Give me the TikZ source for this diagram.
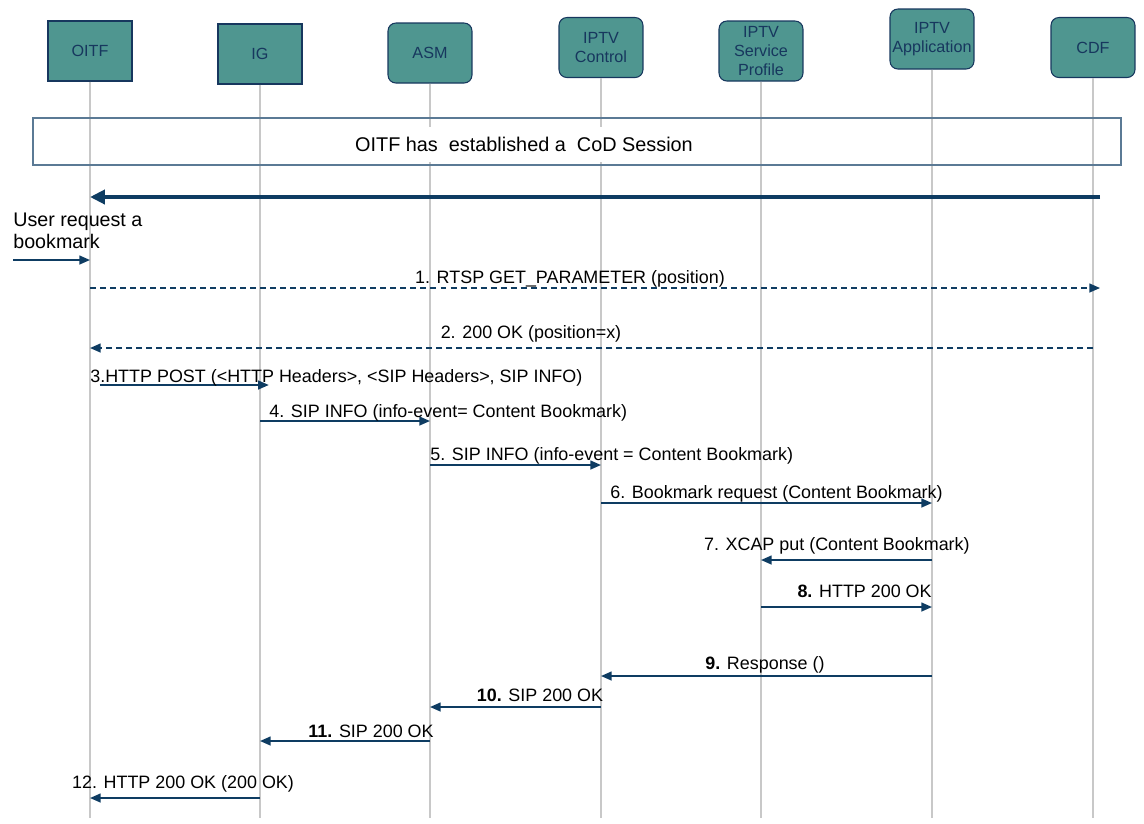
\documentclass[tikz,border=0pt]{standalone}
\usepackage{fontspec}
\setmainfont{Liberation Sans}
\usetikzlibrary{arrows.meta}
\definecolor{boxteal}{HTML}{4F9690}
\definecolor{boxline}{HTML}{17375E}
\definecolor{msgblue}{HTML}{0E3C62}
\definecolor{lifegray}{HTML}{C8C8C8}
\definecolor{sessline}{HTML}{5B7A95}
\begin{document}
\begin{tikzpicture}[x=0.02cm,y=-0.02cm,
	actor/.style={draw=boxline,fill=boxteal,line width=0.6pt,minimum width=1.68cm,minimum height=1.2cm,
		text=boxline,font=\fontsize{9.2}{11}\selectfont,align=center,inner sep=1pt},
	ractor/.style={actor,rounded corners=4.5pt},
	life/.style={lifegray,line width=0.8pt},
	msg/.style={msgblue,line width=0.9pt,-{Triangle[length=6pt,width=5pt]}},
	dmsg/.style={msg,dash pattern=on 3.4pt off 2.3pt},
	lbl/.style={font=\fontsize{10.2}{12}\selectfont,inner sep=0pt}]
	\useasboundingbox (0,0) rectangle (1144,823);

	% ACTORS
	\node[actor] (oitf) at (90,51) {OITF};
	\node[actor] (ig) at (260,54) {IG};
	\node[ractor] (asm) at (430,53) {ASM};
	\node[ractor] (ctrl) at (601,47.5) {IPTV\\Control};
	\node[ractor] (prof) at (761,51) {IPTV\\Service\\Profile};
	\node[ractor] (app) at (932,39) {IPTV\\Application};
	\node[ractor] (cdf) at (1093,47.5) {CDF};
	\foreach \n in {oitf,ig,asm,ctrl,prof,app,cdf}
		\draw[life] (\n.south) -- (\n.south |- 0,818);

	% SESSION
	\node[draw=sessline,line width=0.9pt,minimum width=21.76cm,minimum height=0.94cm] (sess) at (577,141.5) {};
	\node[fill=white,font=\fontsize{11.3}{13}\selectfont,minimum height=0.7cm,inner xsep=2pt] (sesstxt) at (524,144)
		{OITF has\ \ established a\ \ CoD Session};
	\draw[msgblue,line width=2.3pt,-{Triangle[length=8.5pt,width=8pt]},shorten <=-4pt] (cdf |- 0,197) -- (oitf |- 0,197);

	% USER REQUEST
	\node[lbl,font=\fontsize{11.2}{12.5}\selectfont,align=left,anchor=base west] (user) at (13,248) {User request a\\bookmark};
	\coordinate (userin) at (13,260);
	\draw[msg] (userin) -- (oitf |- userin);

	% MESSAGES
	\draw[dmsg,shorten >=-4pt] (oitf |- 0,288) -- (cdf |- 0,288);
	\node[lbl,anchor=base] (m1) at (570,283) {1. RTSP GET\_PARAMETER (position)};
	\draw[dmsg] (cdf |- 0,348) -- (oitf |- 0,348);
	\node[lbl,anchor=base] (m2) at (531,338) {2. 200 OK (position=x)};
	\draw[msg,shorten <=5.5pt,shorten >=-5pt] (oitf |- 0,385) -- (ig |- 0,385);
	\node[lbl,anchor=base west] (m3) at (90,382) {3.HTTP POST (<HTTP Headers>, <SIP Headers>, SIP INFO)};
	\draw[msg] (ig |- 0,421) -- (asm |- 0,421);
	\node[lbl,anchor=base west] (m4) at (269,417) {4. SIP INFO (info-event= Content Bookmark)};
	\draw[msg] (asm |- 0,465) -- (ctrl |- 0,465);
	\node[lbl,anchor=base west] (m5) at (430,460) {5. SIP INFO (info-event = Content Bookmark)};
	\draw[msg] (ctrl |- 0,503) -- (app |- 0,503);
	\node[lbl,anchor=base west] (m6) at (610,498) {6. Bookmark request (Content Bookmark)};
	\draw[msg] (app |- 0,560) -- (prof |- 0,560);
	\node[lbl,anchor=base east] (m7) at (970,550) {7. XCAP put (Content Bookmark)};
	\draw[msg] (prof |- 0,607) -- (app |- 0,607);
	\node[lbl,anchor=base east] (m8) at (932,597) {\textbf{8.} HTTP 200 OK};
	\draw[msg] (app |- 0,676) -- (ctrl |- 0,676);
	\node[lbl,anchor=base] (m9) at (765,669) {\textbf{9.} Response ()};
	\draw[msg] (ctrl |- 0,707) -- (asm |- 0,707);
	\node[lbl,anchor=base] (m10) at (540,701) {\textbf{10.} SIP 200 OK};
	\draw[msg] (asm |- 0,741) -- (ig |- 0,741);
	\node[lbl,anchor=base east] (m11) at (434,737) {\textbf{11.} SIP 200 OK};
	\draw[msg] (ig |- 0,798) -- (oitf |- 0,798);
	\node[lbl,anchor=base] (m12) at (183,788) {12. HTTP 200 OK (200 OK)};
\end{tikzpicture}
\end{document}
